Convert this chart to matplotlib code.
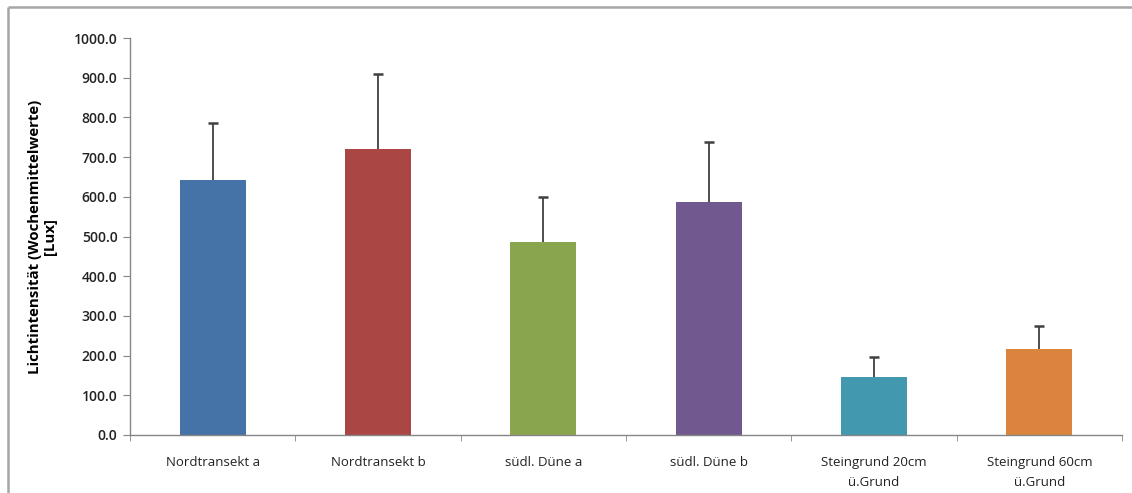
import matplotlib
matplotlib.use("Agg")
import matplotlib.pyplot as plt
from matplotlib.lines import Line2D
import numpy as np

plt.rcParams['font.family'] = ['Open Sans', 'DejaVu Sans']

categories = ["Nordtransekt a", "Nordtransekt b", "südl. Düne a", "südl. Düne b",
              "Steingrund 20cm\nü.Grund", "Steingrund 60cm\nü.Grund"]
means = [642, 720, 485, 587, 145, 217]
errors = [145, 189, 115, 150, 52, 58]
colors = ["#4572A7", "#AA4643", "#89A54E", "#71588F", "#4198AF", "#DB843D"]
yticks = [0, 100, 200, 300, 400, 500, 600, 700, 800, 900, 1000]

W, H = 1132, 493
fig = plt.figure(figsize=(W/100, H/100), dpi=100)
ax = fig.add_axes([130/W, 1-435/H, (1122-130)/W, (435-38)/H])

x = np.arange(len(categories))
m = np.array(means)
e = np.array(errors)
ax.bar(x, m, width=0.4, color=colors, edgecolor='none', zorder=2)
ax.vlines(x, m, m + e, color='#404040', linewidth=1.3, zorder=3)
ax.plot(x, m + e, linestyle='none', marker='_', markersize=7, markeredgewidth=1.8,
        color='#404040', zorder=3)

ax.set_xlim(-0.5, len(categories) - 0.5)
ax.set_ylim(0, 1000)
ax.set_yticks(yticks)
ax.set_yticklabels([f"{v:.1f}" for v in yticks])
ax.set_xticks(x)
ax.set_xticklabels(categories, linespacing=1.7)
ax.set_xticks(np.arange(-0.5, len(categories)), minor=True)
ax.tick_params(axis='x', which='major', length=0, pad=15, labelsize=9.5, labelcolor='#222222')
ax.tick_params(axis='x', which='minor', length=4, color='#868686', direction='out')
ax.tick_params(axis='y', length=5, color='#868686', labelsize=10, labelcolor='#222222', pad=4)
for lab in ax.get_yticklabels():
    lab.set_fontweight('semibold')

for s in ['top', 'right']:
    ax.spines[s].set_visible(False)
for s in ['left', 'bottom']:
    ax.spines[s].set_color('#868686')
    ax.spines[s].set_linewidth(1.0)

ax.set_ylabel("Lichtintensität (Wochenmittelwerte)\n[Lux]", fontsize=10.8,
              fontweight='bold', labelpad=12, linespacing=1.1)

# outer frame (top and left visible)
fig.add_artist(Line2D([8/W, 1.0], [1 - 7/H, 1 - 7/H], transform=fig.transFigure,
                      color='#a6a6a6', linewidth=1.8, solid_capstyle='butt'))
fig.add_artist(Line2D([8/W, 8/W], [0.0, 1 - 7/H], transform=fig.transFigure,
                      color='#a6a6a6', linewidth=1.8, solid_capstyle='butt'))

fig.savefig("out.png", dpi=100, facecolor='white')
